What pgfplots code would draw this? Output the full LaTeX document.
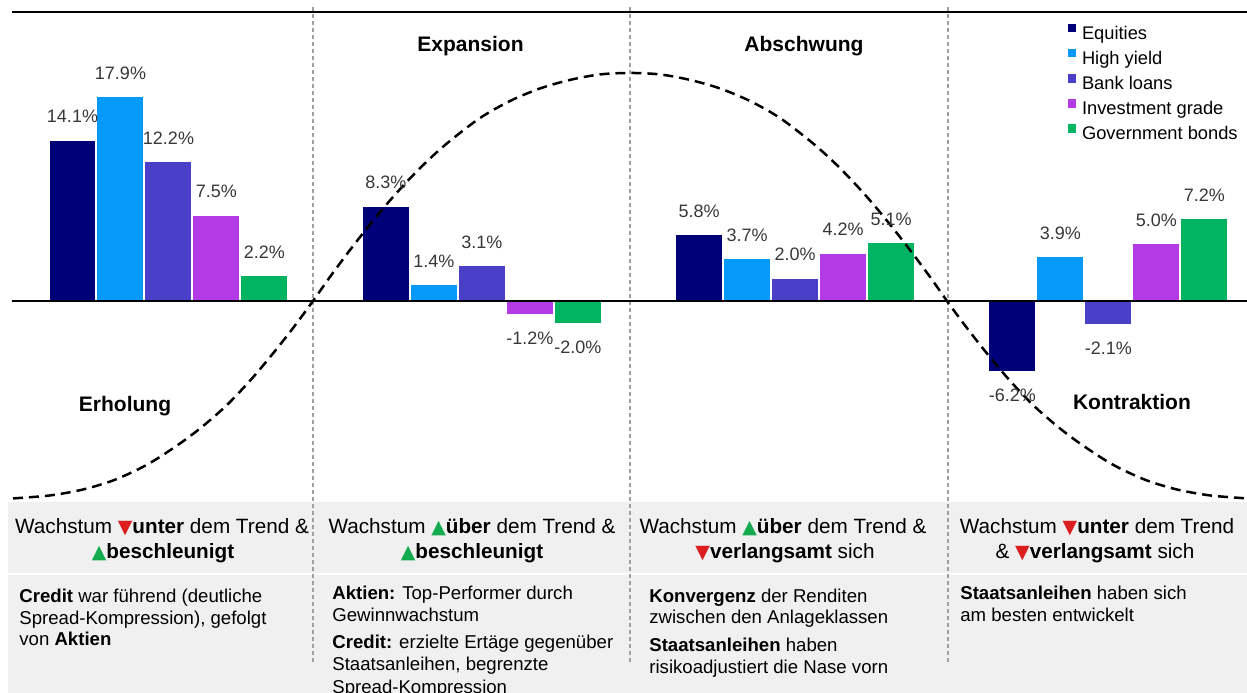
\documentclass[border=0pt]{standalone}
\usepackage{pgfplots}
\pgfplotsset{compat=1.18}
\usepackage{pgfplotstable}
\usepackage{fontspec}
\setmainfont{Liberation Sans}
\newfontfamily\symfont{DejaVu Sans}

\definecolor{cEq}{RGB}{0,0,120}
\definecolor{cHY}{RGB}{5,153,250}
\definecolor{cBL}{RGB}{74,64,200}
\definecolor{cIG}{RGB}{180,58,230}
\definecolor{cGov}{RGB}{0,180,98}
\definecolor{boxgray}{RGB}{240,240,240}
\definecolor{sepgray}{RGB}{160,160,160}
\definecolor{labelgray}{RGB}{55,55,55}
\definecolor{upgreen}{RGB}{20,170,80}
\definecolor{downred}{RGB}{220,30,30}

\newcommand\up{{\fontsize{9.5bp}{10bp}\symfont\textcolor{upgreen}{▲}}}
\newcommand\dn{{\fontsize{9.5bp}{10bp}\symfont\textcolor{downred}{▼}}}
\newcommand\headfont{\fontsize{10.35bp}{12bp}\selectfont}
\newcommand\bodyfont{\fontsize{9.3bp}{11bp}\selectfont}
\newcommand\titlefont{\fontsize{10.5bp}{12bp}\selectfont\bfseries}

% returns by phase of the cycle (%)
\pgfplotstableread{
phase eq   hy   bl   ig   gov
0     14.1 17.9 12.2 7.5  2.2
1     8.3  1.4  3.1  -1.2 -2.0
2     5.8  3.7  2.0  4.2  5.1
3     -6.2 3.9  -2.1 5.0  7.2
}\returns

% stylised business cycle
\pgfplotstableread{
x       y
-0.4963 -17.32
-0.3782 -17.06
-0.2729 -16.54
-0.1771 -15.75
-0.0910 -14.69
-0.0271 -13.68
0.0527  -12.19
0.1165  -10.83
0.1899  -9.04
0.2665  -6.80
0.3399  -4.39
0.4038  -2.15
0.4612  0
0.5155  2.11
0.5793  4.47
0.6432  6.71
0.7070  8.82
0.7708  10.75
0.8347  12.50
0.8985  14.04
0.9943  16.05
1.0900  17.54
1.1858  18.64
1.2815  19.39
1.3773  19.87
1.4730  20.00
1.5688  19.87
1.6645  19.39
1.7603  18.64
1.8560  17.54
1.9518  16.05
2.0475  14.04
2.1114  12.50
2.1752  10.75
2.2391  8.82
2.3029  6.71
2.3667  4.47
2.4306  2.11
2.4848  0
2.5423  -2.15
2.6061  -4.39
2.6795  -6.80
2.7561  -9.04
2.8296  -10.83
2.8934  -12.19
2.9732  -13.68
3.0370  -14.69
3.1232  -15.75
3.2189  -16.54
3.3243  -17.06
3.4424  -17.32
}\cycle

\pgfplotsset{
  bars/.style={
    ybar, bar width=0.150, bar shift=0pt, draw=white, line width=0.5bp,
    nodes near coords={\pgfmathprintnumber[fixed,fixed zerofill,precision=1,assume math mode=true]{\pgfplotspointmeta}\%},
    nodes near coords align=vertical,
    every node near coord/.append style={font=\fontsize{9bp}{10bp}\selectfont, text=labelgray, inner xsep=0pt, inner ysep=8.4bp},
    legend image code/.code={\fill[##1,draw=none] (0bp,1.2bp) rectangle (4.2bp,5.4bp);},
  },
}

\begin{document}
\begin{tikzpicture}
\path[use as bounding box, clip] (0,0) rectangle (623.5bp,346.5bp);
% panels below the chart, phase separators, top rule
\begin{scope}[shift={(0,346.5bp)}, x=0.5bp, y=-0.5bp]
  \fill[boxgray] (8,502) rectangle (1247,573);
  \fill[boxgray] (8,575) rectangle (1247,693);
  \draw[sepgray, line width=0.6bp, dash pattern=on 2bp off 1.5bp]
    (313,7) -- (313,663) (630,7) -- (630,663) (948,7) -- (948,663);
  \draw[black, line width=1bp] (12,12) -- (1247,12);
\end{scope}

\begin{axis}[
  at={(0,0)}, anchor=south west,
  scale only axis, width=623.5bp, height=346.5bp,
  xmin=-0.5378, xmax=3.4424, ymin=-34.39, ymax=26.40,
  hide axis, clip=false,
  legend style={at={(axis cs:2.8711,24.31)}, anchor=north west,
    draw=none, fill=none, inner sep=0pt, outer sep=0pt,
    font=\fontsize{9.15bp}{11bp}\selectfont,
    row sep=2.6bp, column sep=2.8bp,
    nodes={inner sep=0pt, text height=6.9bp, text depth=2.25bp}},
  legend cell align=left,
]
% five asset classes side by side within each phase
\addplot[bars, fill=cEq]  table[x expr=\thisrow{phase}-0.3064, y=eq]  {\returns};
\addplot[bars, fill=cHY]  table[x expr=\thisrow{phase}-0.1532, y=hy]  {\returns};
\addplot[bars, fill=cBL]  table[x=phase, y=bl]  {\returns};
\addplot[bars, fill=cIG]  table[x expr=\thisrow{phase}+0.1532, y=ig]  {\returns};
\addplot[bars, fill=cGov] table[x expr=\thisrow{phase}+0.3064, y=gov] {\returns};
\legend{Equities, High yield, Bank loans, Investment grade, Government bonds}
\draw[black, line width=0.75bp] (axis cs:-0.4995,0) -- (axis cs:3.4424,0);
\addplot[black, line width=1.25bp, dash pattern=on 5bp off 3bp, smooth, forget plot] table[x=x, y=y] {\cycle};
\end{axis}

% phase names and commentary
\begin{scope}[shift={(0,346.5bp)}, x=0.5bp, y=-0.5bp, every node/.style={inner sep=0pt}]
  \node[anchor=base, font=\titlefont] at (470.5,51.7) {Expansion};
  \node[anchor=base, font=\titlefont] at (804,52) {Abschwung};
  \node[anchor=base, font=\titlefont] at (125,411.7) {Erholung};
  \node[anchor=base, font=\titlefont] at (1132,410) {Kontraktion};

  \node[anchor=base, font=\headfont] at (162,533.3) {Wachstum \dn\textbf{unter} dem Trend \&};
  \node[anchor=base, font=\headfont] at (163,558.3) {\up\textbf{beschleunigt}};
  \node[anchor=base, font=\headfont] at (472,533.3) {Wachstum \up\textbf{über} dem Trend \&};
  \node[anchor=base, font=\headfont] at (472,558.3) {\up\textbf{beschleunigt}};
  \node[anchor=base, font=\headfont] at (783,533.3) {Wachstum \up\textbf{über} dem Trend \&};
  \node[anchor=base, font=\headfont] at (785,558.3) {\dn\textbf{verlangsamt} sich};
  \node[anchor=base, font=\headfont] at (1097,533.3) {Wachstum \dn\textbf{unter} dem Trend};
  \node[anchor=base, font=\headfont] at (1095,558.3) {\& \dn\textbf{verlangsamt} sich};

  \node[anchor=base west, font=\bodyfont] at (19,603) {\textbf{Credit} war führend (deutliche};
  \node[anchor=base west, font=\bodyfont] at (19,624.5) {Spread-Kompression), gefolgt};
  \node[anchor=base west, font=\bodyfont] at (19,646) {von \textbf{Aktien}};

  \node[anchor=base west, font=\bodyfont] at (332,599.3) {\textbf{Aktien:} Top-Performer durch};
  \node[anchor=base west, font=\bodyfont] at (332,621.7) {Gewinnwachstum};
  \node[anchor=base west, font=\bodyfont] at (332,648.3) {\textbf{Credit:} erzielte Ertäge gegenüber};
  \node[anchor=base west, font=\bodyfont] at (332,670.7) {Staatsanleihen, begrenzte};
  \node[anchor=base west, font=\bodyfont] at (332,693.3) {Spread-Kompression};

  \node[anchor=base west, font=\bodyfont] at (649,602.7) {\textbf{Konvergenz} der Renditen};
  \node[anchor=base west, font=\bodyfont] at (649,624) {zwischen den Anlageklassen};
  \node[anchor=base west, font=\bodyfont] at (649,651.7) {\textbf{Staatsanleihen} haben};
  \node[anchor=base west, font=\bodyfont] at (649,674) {risikoadjustiert die Nase vorn};

  \node[anchor=base west, font=\bodyfont] at (960,600) {\textbf{Staatsanleihen} haben sich};
  \node[anchor=base west, font=\bodyfont] at (960,621.7) {am besten entwickelt};
\end{scope}
\end{tikzpicture}
\end{document}
